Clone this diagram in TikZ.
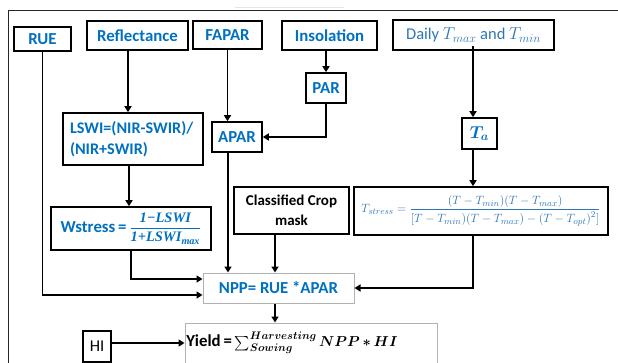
\documentclass[tikz,border=0pt]{standalone}
\usepackage{amsmath,bm}
\usepackage{fontspec}
\setmainfont{Carlito}
\newfontfamily\tmsfont{Liberation Serif}
\usetikzlibrary{arrows.meta}
\definecolor{blueA}{HTML}{0070C0}
\definecolor{blueB}{HTML}{2E75B6}
\newcommand{\tbi}[1]{\text{\tmsfont\bfseries\itshape #1}}
\tikzset{
  box/.style={draw=black, line width=1.6pt, inner sep=0pt, align=center, text=blueA,
    font=\bfseries\fontsize{16.8}{19}\selectfont},
  gbox/.style={box, draw=gray!60, line width=1pt},
  arr/.style={line width=1.6pt, -{Triangle[length=6pt,width=7pt]}},
  ln/.style={line width=1.6pt}
}
\begin{document}
\begin{tikzpicture}[x=1pt,y=-1pt]
\useasboundingbox (0,0) rectangle (618,362);
% frame
\draw[line width=1pt, black!85] (8,364) -- (8,10) -- (620,10);
\draw[line width=1pt, black!10] (235,7) -- (344,7);
% nodes
\node[box, minimum width=57pt, minimum height=24pt] (rue) at (42.5,39) {RUE};
\node[box, minimum width=101pt, minimum height=29pt] (refl) at (137.5,35.5) {Reflectance};
\node[box, minimum width=69pt, minimum height=28pt] (fapar) at (227.5,35) {FAPAR};
\node[box, minimum width=95pt, minimum height=29pt] (ins) at (329.5,35.5) {Insolation};
\node[box, minimum width=161pt, minimum height=30pt, font=\fontsize{16.5}{19}\selectfont, text=blueB] (daily) at (473.5,35) {Daily \(T_{max}\) and \(T_{min}\)};
\node[box, minimum width=40pt, minimum height=30pt] (par) at (326,88) {PAR};
\node[box, minimum width=35pt, minimum height=31pt, font=\fontsize{17}{19}\selectfont] (ta) at (479.5,133.5) {\(\bm{T_a}\)};
\node[box, minimum width=140pt, minimum height=52pt, align=left, text width=126pt, font=\bfseries\fontsize{16.2}{21}\selectfont] (lswi) at (133,139) {LSWI=(NIR-SWIR)/\\(NIR+SWIR)};
\node[box, minimum width=50pt, minimum height=30pt] (apar) at (237,137) {APAR};
\node[box, minimum width=160pt, minimum height=43pt] (wst) at (131,228.5) {Wstress\,=\,{\fontsize{14.5}{16}\selectfont\(\dfrac{\tbi{1−LSWI}}{\tbi{1+LSWI}_{\tbi{max}}}\)}};
\node[box, minimum width=115pt, minimum height=47pt, text=black, font=\bfseries\fontsize{15}{20}\selectfont] (cls) at (291.5,210.5) {Classified Crop\\mask};
\node[box, minimum width=254pt, minimum height=48pt, text=blueB, font=\fontsize{12.8}{15}\selectfont] (tst) at (481,211) {\(T_{stress}=\dfrac{(T-T_{min})(T-T_{max})}{[T-T_{min})(T-T_{max})-\left(T-T_{opt}\right)^{2}]}\)};
\node[gbox, minimum width=151pt, minimum height=30pt] (npp) at (278.5,288) {NPP= RUE *APAR};
\node[gbox, minimum width=252pt, minimum height=40pt, text=black] (yield) at (311,343) {Yield\,=\,{\fontsize{15}{17}\selectfont\(\sum_{\bm{Sowing}}^{\bm{Harvesting}}\bm{NPP{\,*\,}HI}\)}\hspace*{38pt}};
\node[box, minimum width=28pt, minimum height=31pt, text=black, font=\fontsize{16.5}{19}\selectfont] (hi) at (97,346.5) {HI};
% connectors
\draw[arr] (rue.south) |- ([yshift=-7pt]npp.west);
\draw[arr] (wst.south) |- ([yshift=9pt]npp.west);
\draw[arr] ([xshift=-9.5pt]refl.south) -- ([xshift=-9.5pt]refl.south |- lswi.north);
\draw[arr] ([xshift=-4pt]lswi.south) -- ([xshift=-4pt]lswi.south |- wst.north);
\draw[arr] (fapar.south) -- (fapar.south |- apar.north);
\draw[arr] (par.north |- ins.south) -- (par.north);
\draw[arr] (par.south) |- (apar.east);
\draw[arr] ([xshift=-6.5pt,yshift=5pt]ta.north |- daily.south) -- ([xshift=-6.5pt]ta.north);
\draw[arr] ([xshift=-6.5pt]ta.south) -- ([xshift=-6.5pt]ta.south |- tst.north);
\draw[arr] ([xshift=-9pt]apar.south) -- ([xshift=-9pt]apar.south |- npp.north);
\draw[arr] ([xshift=-16.5pt]cls.south) -- ([xshift=-16.5pt]cls.south |- npp.north);
\draw[arr] ([xshift=-8pt]tst.south) |- (npp.east);
\draw[arr] ([xshift=-3.5pt]npp.south) -- ([xshift=-3.5pt]npp.south |- yield.north);
\draw[arr] (hi.east |- yield.west) -- (yield.west);
\end{tikzpicture}
\end{document}
